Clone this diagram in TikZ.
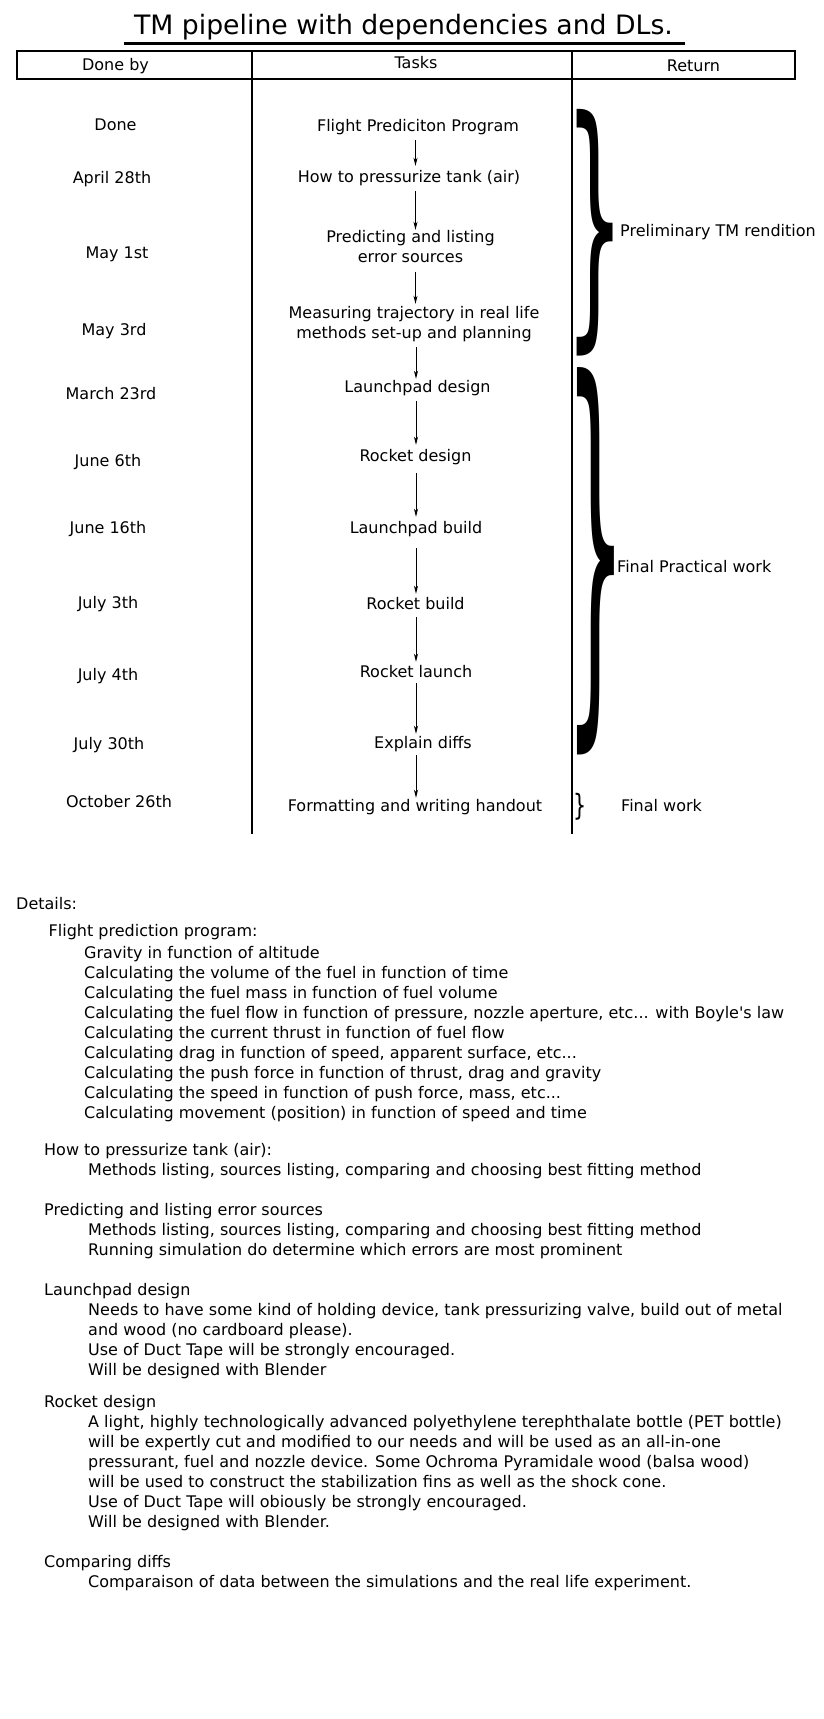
\documentclass[tikz,border=0pt]{standalone}
\usepackage{fontspec}
\setmainfont{DejaVu Sans}[Ligatures=TeXOff]
\usetikzlibrary{arrows.meta}
\tikzset{
  txt/.style={inner sep=0pt, font=\fontsize{16}{20}\selectfont},
  lft/.style={txt, anchor=base west},
  ctr/.style={txt, anchor=base},
  task/.style={txt, anchor=base, text height=12pt, text depth=4pt},
  task2/.style={txt, anchor=north, align=center},
  rule/.style={line width=2pt},
  arr/.style={line width=1pt, -{Stealth[length=8pt,width=4pt,inset=2pt]}},
  brc/.style={inner sep=0pt, anchor=north west}
}
\begin{document}
\begin{tikzpicture}[x=1pt,y=-1pt]
\useasboundingbox (0,0) rectangle (823,1719);
\fill[white] (0,0) rectangle (823,1719);
% title
\node[inner sep=0pt, anchor=base, font=\fontsize{26.7}{30}\selectfont] (title) at (403.5,34.5) {TM pipeline with dependencies and DLs.};
\draw[line width=3.3pt] (124,43.3) -- (685,43.3);
% table
\draw[rule] (16.8,51) rectangle (794.5,78.5);
\draw[rule] (251.7,51) -- (251.7,834);
\draw[rule] (571.8,51) -- (571.8,834);
\node[ctr] (h1) at (115.5,70.5) {Done by};
\node[ctr] (h2) at (416,68) {Tasks};
\node[ctr] (h3) at (693.5,71.5) {Return};
% done by column
\node[ctr] (d1) at (115.5,130.5) {Done};
\node[ctr] (d2) at (112,183) {April 28th};
\node[ctr] (d3) at (117,258) {May 1st};
\node[ctr] (d4) at (114,335) {May 3rd};
\node[ctr] (d5) at (111,399) {March 23rd};
\node[ctr] (d6) at (108,466) {June 6th};
\node[ctr] (d7) at (108,533) {June 16th};
\node[ctr] (d8) at (108,608) {July 3th};
\node[ctr] (d9) at (108,680) {July 4th};
\node[ctr] (d10) at (109,749) {July 30th};
\node[ctr] (d11) at (119,807) {October 26th};
% tasks
\node[task] (t1) at (418,131) {Flight Prediciton Program};
\node[task] (t2) at (409,182) {How to pressurize tank (air)};
\node[task2] (t3) at (410.5,229.8) {Predicting and listing\\error sources};
\node[task2] (t4) at (414,305.8) {Measuring trajectory in real life\\methods set-up and planning};
\node[task] (t5) at (417.5,392) {Launchpad design};
\node[task] (t6) at (415.5,461) {Rocket design};
\node[task] (t7) at (416,533) {Launchpad build};
\node[task] (t8) at (415.5,609) {Rocket build};
\node[task] (t9) at (416,677) {Rocket launch};
\node[task] (t10) at (423,748) {Explain diffs};
\node[task] (t11) at (415,811) {Formatting and writing handout};
% arrows
\coordinate (ax1) at (415.5,0);
\coordinate (ax2) at (416,0);
\draw[arr, shorten <=5pt, shorten >=4pt] (t1.south -| ax1) -- (t2.north -| ax1);
\draw[arr, shorten <=5pt] (t2.south -| ax1) -- (t3.north -| ax1);
\draw[arr, shorten <=9pt, shorten >=2pt] (t3.south -| ax1) -- (t4.north -| ax1);
\draw[arr, shorten <=5.7pt, shorten >=1pt] (t4.south -| ax2) -- (t5.north -| ax2);
\draw[arr, shorten <=5pt, shorten >=4pt] (t5.south -| ax2) -- (t6.north -| ax2);
\draw[arr, shorten <=8pt, shorten >=4pt] (t6.south -| ax2) -- (t7.north -| ax2);
\draw[arr, shorten <=11pt, shorten >=3pt] (t7.south -| ax2) -- (t8.north -| ax2);
\draw[arr, shorten <=4pt, shorten >=3pt] (t8.south -| ax2) -- (t9.north -| ax2);
\draw[arr, shorten <=2pt, shorten >=2pt] (t9.south -| ax2) -- (t10.north -| ax2);
\draw[arr, shorten <=3pt, shorten >=1pt] (t10.south -| ax2) -- (t11.north -| ax2);
% braces
\node[brc] (b1) at (564.8,109.5) {\resizebox*{59.1pt}{246.5pt}{\}}};
\node[brc] (b2) at (564.8,367) {\resizebox*{60.8pt}{387pt}{\}}};
\node[brc] (b3) at (573.2,793) {\resizebox*{13.1pt}{27pt}{\}}};
\node[lft] (r1) at (620,236) {Preliminary TM rendition};
\node[lft] (r2) at (617,572) {Final Practical work};
\node[lft] (r3) at (621,811) {Final work};
% details
\node[lft] (x0) at (16,909) {Details:};
\node[lft] (x1) at (48.5,936) {Flight prediction program:};
\node[lft] (x1a) at (84,958) {Gravity in function of altitude};
\node[lft] (x1b) at (84,978) {Calculating the volume of the fuel in function of time};
\node[lft] (x1c) at (84,998) {Calculating the fuel mass in function of fuel volume};
\node[lft] (x1d) at (84,1018) {Calculating the fuel flow in function of pressure, nozzle aperture, etc... with Boyle's law};
\node[lft] (x1e) at (84,1038) {Calculating the current thrust in function of fuel flow};
\node[lft] (x1f) at (84,1058) {Calculating drag in function of speed, apparent surface, etc...};
\node[lft] (x1g) at (84,1078) {Calculating the push force in function of thrust, drag and gravity};
\node[lft] (x1h) at (84,1098) {Calculating the speed in function of push force, mass, etc...};
\node[lft] (x1i) at (84,1118) {Calculating movement (position) in function of speed and time};
\node[lft] (x2) at (44,1155.3) {How to pressurize tank (air):};
\node[lft] (x2a) at (88,1175.3) {Methods listing, sources listing, comparing and choosing best fitting method};
\node[lft] (x3) at (44,1215.3) {Predicting and listing error sources};
\node[lft] (x3a) at (88,1235.3) {Methods listing, sources listing, comparing and choosing best fitting method};
\node[lft] (x3b) at (88,1255.3) {Running simulation do determine which errors are most prominent};
\node[lft] (x4) at (44,1295.3) {Launchpad design};
\node[lft] (x4a) at (88,1315.3) {Needs to have some kind of holding device, tank pressurizing valve, build out of metal};
\node[lft] (x4b) at (88,1335.3) {and wood (no cardboard please).};
\node[lft] (x4c) at (88,1355.3) {Use of Duct Tape will be strongly encouraged.};
\node[lft] (x4d) at (88,1375.3) {Will be designed with Blender};
\node[lft] (x5) at (44,1407.7) {Rocket design};
\node[lft] (x5a) at (88,1427.7) {A light, highly technologically advanced polyethylene terephthalate bottle (PET bottle)};
\node[lft] (x5b) at (88,1447.7) {will be expertly cut and modified to our needs and will be used as an all-in-one};
\node[lft] (x5c) at (88,1467.7) {pressurant, fuel and nozzle device. Some Ochroma Pyramidale wood (balsa wood)};
\node[lft] (x5d) at (88,1487.7) {will be used to construct the stabilization fins as well as the shock cone.};
\node[lft] (x5e) at (88,1507.7) {Use of Duct Tape will obiously be strongly encouraged.};
\node[lft] (x5f) at (88,1527.7) {Will be designed with Blender.};
\node[lft] (x6) at (44,1567) {Comparing diffs};
\node[lft] (x6a) at (88,1587) {Comparaison of data between the simulations and the real life experiment.};
\end{tikzpicture}
\end{document}
